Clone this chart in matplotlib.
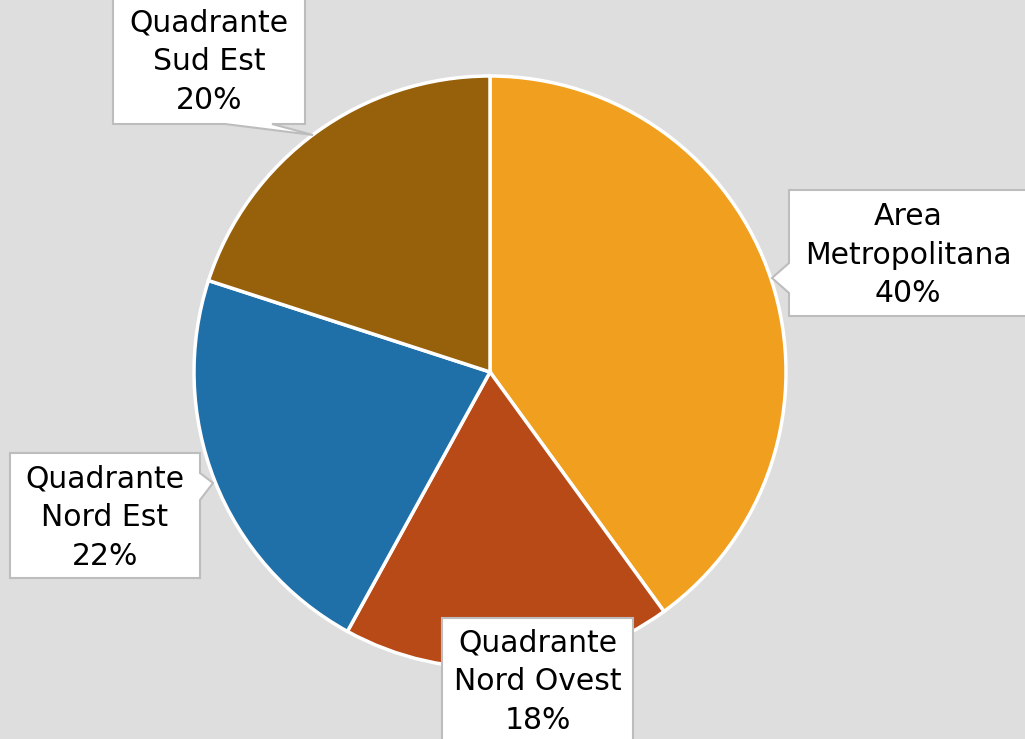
import matplotlib
matplotlib.use("Agg")
import matplotlib.pyplot as plt
from matplotlib.patches import Polygon

# Data
labels = ['Area\nMetropolitana', 'Quadrante\nNord Ovest', 'Quadrante\nNord Est', 'Quadrante\nSud Est']
shares = [40, 18, 22, 20]
colors = ['#F0A01E', '#B84A18', '#1F6FA9', '#97600A']

W, H = 1025, 739
fig = plt.figure(figsize=(W / 100, H / 100), dpi=100)
fig.patch.set_facecolor('#DEDEDE')
ax = fig.add_axes([0, 0, 1, 1])
ax.set_facecolor('#DEDEDE')

# pie in pixel coordinates (y measured from bottom)
ax.pie(shares, colors=colors, startangle=90, counterclock=False,
       center=(490, H - 372), radius=296, frame=True,
       wedgeprops=dict(edgecolor='white', linewidth=2.5))
ax.set_xlim(0, W)
ax.set_ylim(0, H)
ax.set_aspect('equal')
ax.axis('off')

# callout boxes: (x0, y0, x1, y1) top-origin pixels, pointer (edge, a, b, tip), text centre
callouts = [
    ((789, 190, 1040, 316), ('left', 263, 293, (772, 278)), (908, 255)),
    ((442, 618, 633, 760), None, (538, 682)),
    ((10, 453, 200, 578), ('right', 473, 500, (213, 483)), (105, 518)),
    ((113, -20, 305, 124), ('bottom', 225, 272, (313, 135)), (209, 62)),
]

for lab, pct, (box, ptr, tc) in zip(labels, shares, callouts):
    x0, y0, x1, y1 = box
    pts = [(x0, y0), (x1, y0)]
    if ptr and ptr[0] == 'right':
        pts += [(x1, ptr[1]), ptr[3], (x1, ptr[2])]
    pts += [(x1, y1)]
    if ptr and ptr[0] == 'bottom':
        pts += [(ptr[2], y1), ptr[3], (ptr[1], y1)]
    pts += [(x0, y1)]
    if ptr and ptr[0] == 'left':
        pts += [(x0, ptr[2]), ptr[3], (x0, ptr[1])]
    pts = [(px, H - py) for px, py in pts]
    ax.add_patch(Polygon(pts, closed=True, facecolor='white',
                         edgecolor='#BDBDBD', linewidth=1.5, zorder=3))
    ax.text(tc[0], H - tc[1], f"{lab}\n{pct}%", ha='center', va='center',
            fontsize=21.5, linespacing=1.42, color='black',
            family=['DejaVu Sans'], zorder=4)

fig.savefig('out.png', dpi=100, facecolor=fig.get_facecolor())
